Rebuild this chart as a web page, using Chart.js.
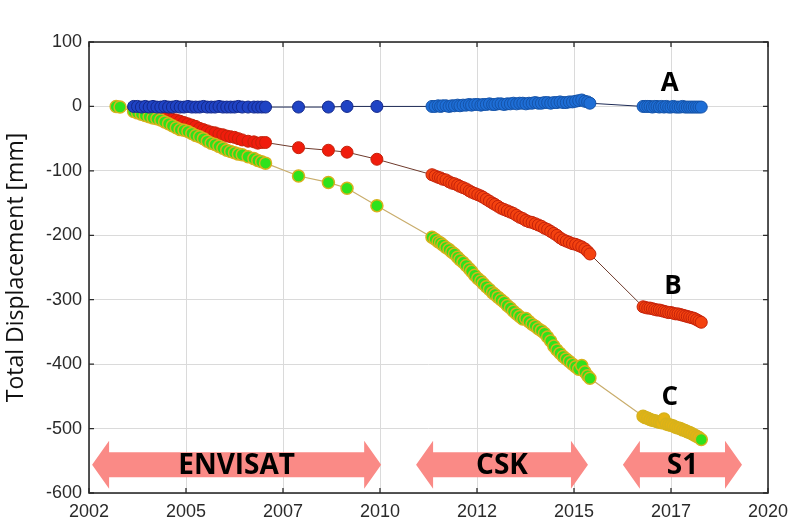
<!DOCTYPE html>
<html>
<head>
<meta charset="utf-8">
<script src="https://cdn.jsdelivr.net/npm/chart.js@4.4.1/dist/chart.umd.min.js"></script>
<style>
  html, body { margin: 0; padding: 0; background: #ffffff; }
  #wrap { width: 791px; height: 518px; }
</style>
</head>
<body>
<div id="wrap"><canvas id="c" width="791" height="518"></canvas></div>
<script>
// ---------------- DATA ----------------
const envDates = [2003.2, 2003.3, 2003.65, 2003.75, 2003.85, 2003.95, 2004.05, 2004.15, 2004.25, 2004.35,
  2004.45, 2004.55, 2004.65, 2004.75, 2004.85, 2004.95, 2005.05, 2005.15, 2005.25, 2005.35,
  2005.45, 2005.55, 2005.65, 2005.75, 2005.85, 2005.95, 2006.05, 2006.15, 2006.25, 2006.35,
  2006.45, 2006.6, 2006.75, 2006.85, 2006.95, 2007.05, 2007.9, 2008.67, 2009.15, 2009.92];
const cskDates = [2011.34, 2011.42, 2011.5, 2011.56, 2011.62, 2011.7, 2011.78, 2011.85, 2011.92, 2012.0,
  2012.06, 2012.14, 2012.22, 2012.3, 2012.36, 2012.44, 2012.52, 2012.6, 2012.66, 2012.74,
  2012.82, 2012.9, 2012.96, 2013.04, 2013.12, 2013.2, 2013.28, 2013.36, 2013.44, 2013.52,
  2013.6, 2013.68, 2013.76, 2013.84, 2013.92, 2014.0, 2014.08, 2014.16, 2014.24, 2014.32,
  2014.4, 2014.48, 2014.56, 2014.64, 2014.72, 2014.8, 2014.88, 2014.96, 2015.04, 2015.12,
  2015.2, 2015.28, 2015.35, 2015.41];
const s1Dates = [2016.78, 2016.84, 2016.9, 2016.96, 2017.02, 2017.08, 2017.14, 2017.2, 2017.26, 2017.32,
  2017.38, 2017.44, 2017.5, 2017.56, 2017.62, 2017.68, 2017.74, 2017.8, 2017.86, 2017.92,
  2017.98, 2018.04, 2018.1, 2018.16, 2018.22, 2018.28];

// Site A (blue)
const aEnv = [null, null, 0, 0, -1, 0, -1, 0, -1, -1, 0, -1, -1, 0, -1, -1, 0, -1, -1, -1,
  0, -1, -1, -1, 0, -1, -1, -1, -1, 0, -1, -1, -1, -1, -1, -1, -1, -1, 0, 0];
const aCsk = [0, 0, 1, 0, 1, 1, 0, 1, 1, 2, 1, 2, 2, 3, 2, 3, 3, 2, 3, 3,
  4, 3, 3, 4, 4, 3, 4, 4, 5, 4, 5, 5, 4, 5, 5, 6, 5, 5, 6, 6,
  5, 6, 6, 7, 6, 6, 7, 7, 8, 9, 10, 8, 7, 5];
const aS1 = [0, 0, 0, 0, -1, 0, 0, -1, 0, -1, 0, -1, -1, 0, -1, -1, -1, 0, -1, -1,
  -1, -1, -1, -1, -1, -1];

// Site B (red)
const bEnv = [null, null, -3, -5, -8, -10, -12, -13, -15, -16, -17, -19, -20, -21, -23, -25, -27, -29, -31, -34,
  -36, -38, -40, -41, -43, -44, -46, -47, -48, -50, -52, -54, -55, -57, -56, -56, -64, -68, -71, -82];
const bCsk = [-106, -108, -110, -111, -113, -114, -117, -119, -120, -122, -124, -126, -128, -131, -133, -135, -137, -139, -141, -144,
  -147, -150, -152, -155, -158, -160, -162, -164, -166, -169, -172, -174, -177, -179, -180, -182, -184, -186, -189, -191,
  -194, -197, -200, -204, -207, -209, -211, -213, -214, -216, -218, -221, -225, -229];
const bS1 = [-311, -312, -313, -313, -314, -315, -316, -316, -317, -318, -319, -320, -320, -321, -322, -322, -323, -324, -325, -326,
  -327, -328, -329, -331, -333, -335];

// Site C (green)
const cEnv = [0, -1, -8, -10, -12, -14, -16, -18, -19, -21, -24, -27, -30, -33, -36, -37, -39, -42, -45, -47,
  -50, -54, -57, -59, -62, -65, -68, -70, -72, -74, -75, -78, -81, -84, -86, -88, -108, -118, -127, -154];
const cCsk = [-203, -206, -210, -212, -215, -219, -222, -226, -229, -234, -238, -242, -247, -252, -256, -262, -267, -271, -275, -280,
  -284, -289, -292, -296, -300, -304, -309, -313, -318, -322, -326, -330, -329, -334, -338, -341, -345, -348, -352, -358,
  -364, -372, -378, -383, -388, -392, -396, -400, -404, -408, -402, -412, -418, -422];
const cS1 = [-481, -483, -484, -486, -487, -488, -489, -490, -491, -485, -493, -494, -495, -496, -498, -499, -500, -502, -503, -505,
  -506, -508, -510, -512, -514, -517];

const xTickValues = [2002.5, 2005, 2007.5, 2010, 2012.5, 2015, 2017.5, 2020];
const xTickLabels = ['2002', '2005', '2007', '2010', '2012', '2015', '2017', '2020'];
const yTicks = [100, 0, -100, -200, -300, -400, -500, -600];

const missions = ['ENVISAT', 'CSK', 'S1'];
const missionStart = [2002.58, 2010.93, 2016.26];
const missionEnd = [2010.03, 2015.36, 2019.33];
const siteNames = ['A', 'B', 'C'];

// ---------------- BUILD ----------------
function pts(dates, vals) {
  const out = [];
  dates.forEach((d, i) => { if (vals[i] !== null && vals[i] !== undefined) out.push({ x: d, y: vals[i] }); });
  return out;
}
const seriesA = [].concat(pts(envDates, aEnv), pts(cskDates, aCsk), pts(s1Dates, aS1));
const seriesB = [].concat(pts(envDates, bEnv), pts(cskDates, bCsk), pts(s1Dates, bS1));
const seriesC = [].concat(pts(envDates, cEnv), pts(cskDates, cCsk), pts(s1Dates, cS1));

// annotation placement (data coordinates)
const annot = {
  arrowLevel: -556,
  siteLabelPos: [[2017.47, 35], [2017.55, -280], [2017.47, -452]]
};

const frame = {
  id: 'frame',
  afterDatasetsDraw(chart) {
    const { ctx, chartArea: ca, scales } = chart;
    const xs = scales.x, ys = scales.y;
    ctx.save();
    const yc = ys.getPixelForValue(annot.arrowLevel);
    const sh = 12.5, hh = 24, hl = 17;
    missions.forEach((m, i) => {
      const x0 = xs.getPixelForValue(missionStart[i]);
      const x1 = xs.getPixelForValue(missionEnd[i]);
      ctx.beginPath();
      ctx.moveTo(x0, yc);
      ctx.lineTo(x0 + hl, yc - hh);
      ctx.lineTo(x0 + hl, yc - sh);
      ctx.lineTo(x1 - hl, yc - sh);
      ctx.lineTo(x1 - hl, yc - hh);
      ctx.lineTo(x1, yc);
      ctx.lineTo(x1 - hl, yc + hh);
      ctx.lineTo(x1 - hl, yc + sh);
      ctx.lineTo(x0 + hl, yc + sh);
      ctx.lineTo(x0 + hl, yc + hh);
      ctx.closePath();
      ctx.fillStyle = '#fa8a86';
      ctx.fill();
      ctx.fillStyle = '#000000';
      ctx.font = 'bold 28px "Open Sans", sans-serif';
      ctx.textAlign = 'center';
      ctx.textBaseline = 'middle';
      ctx.fillText(m, (x0 + x1) / 2, yc + 1);
    });
    siteNames.forEach((s, i) => {
      const p = annot.siteLabelPos[i];
      ctx.fillStyle = '#000000';
      ctx.font = 'bold 26px "Open Sans", sans-serif';
      ctx.textAlign = 'center';
      ctx.textBaseline = 'middle';
      ctx.fillText(s, xs.getPixelForValue(p[0]), ys.getPixelForValue(p[1]));
    });
    ctx.strokeStyle = '#2b2b2b';
    ctx.lineWidth = 1.6;
    ctx.strokeRect(ca.left, ca.top, ca.right - ca.left, ca.bottom - ca.top);
    ctx.lineWidth = 1.3;
    const tl = 5;
    xTickValues.forEach(v => {
      const px = xs.getPixelForValue(v);
      ctx.beginPath();
      ctx.moveTo(px, ca.bottom); ctx.lineTo(px, ca.bottom - tl);
      ctx.moveTo(px, ca.top); ctx.lineTo(px, ca.top + tl);
      ctx.stroke();
    });
    yTicks.forEach(v => {
      const py = ys.getPixelForValue(v);
      ctx.beginPath();
      ctx.moveTo(ca.left, py); ctx.lineTo(ca.left + tl, py);
      ctx.moveTo(ca.right, py); ctx.lineTo(ca.right - tl, py);
      ctx.stroke();
    });
    ctx.restore();
  }
};

const blueFill = c => (c.raw && c.raw.x < 2010.5) ? '#1f43c4' : '#1e6ed6';
const blueEdge = c => (c.raw && c.raw.x < 2010.5) ? '#13288a' : '#1553a8';
const redFill = c => (c.raw && c.raw.x < 2010.5) ? '#f01c0c' : '#f4420f';
const greenFill = c => (c.raw && c.raw.x > 2016 && c.dataIndex < seriesC.length - 1) ? '#e6b412' : '#2ee21c';

new Chart(document.getElementById('c'), {
  type: 'line',
  data: {
    datasets: [
      {
        label: 'A', data: seriesA, order: 1,
        borderColor: '#1d2a55', borderWidth: 1,
        pointRadius: 6, pointBorderWidth: 1,
        pointBackgroundColor: blueFill, pointBorderColor: blueEdge,
        tension: 0
      },
      {
        label: 'C', data: seriesC, order: 2,
        borderColor: '#c9ad6c', borderWidth: 1.2,
        pointRadius: 6, pointBorderWidth: 1.5,
        pointBackgroundColor: greenFill, pointBorderColor: '#d7b21c',
        tension: 0
      },
      {
        label: 'B', data: seriesB, order: 3,
        borderColor: '#6e3a2c', borderWidth: 1,
        pointRadius: 6, pointBorderWidth: 1,
        pointBackgroundColor: redFill, pointBorderColor: '#c4220a',
        tension: 0
      }
    ]
  },
  options: {
    responsive: false,
    animation: false,
    devicePixelRatio: 1,
    layout: { padding: { top: 42, right: 23, left: 0, bottom: 0 } },
    plugins: { legend: { display: false }, tooltip: { enabled: false } },
    scales: {
      x: {
        type: 'linear', min: 2002.5, max: 2020,
        afterBuildTicks: s => { s.ticks = xTickValues.map(v => ({ value: v })); },
        afterFit: s => { s.height = 25; s.paddingLeft = 0; s.paddingRight = 0; },
        ticks: {
          callback: (v) => { const i = xTickValues.indexOf(v); return i >= 0 ? xTickLabels[i] : ''; },
          font: { family: '"Liberation Sans", Arial, sans-serif', size: 18 },
          color: '#2a2a2a', padding: 8, maxRotation: 0, autoSkip: false
        },
        grid: { color: '#dadada', lineWidth: 1, drawTicks: false },
        border: { display: false }
      },
      y: {
        type: 'linear', min: -600, max: 100,
        afterBuildTicks: s => { s.ticks = yTicks.map(v => ({ value: v })); },
        afterFit: s => { s.width = 89; s.paddingTop = 0; s.paddingBottom = 0; },
        ticks: {
          font: { family: '"Liberation Sans", Arial, sans-serif', size: 18 },
          color: '#2a2a2a', padding: 7
        },
        grid: { color: '#dadada', lineWidth: 1, drawTicks: false },
        border: { display: false },
        title: {
          display: true, text: 'Total Displacement [mm]',
          font: { family: '"Open Sans", sans-serif', size: 23 },
          color: '#111111', padding: { top: 3, bottom: 0 }
        }
      }
    }
  },
  plugins: [frame]
});
</script>
</body>
</html>
